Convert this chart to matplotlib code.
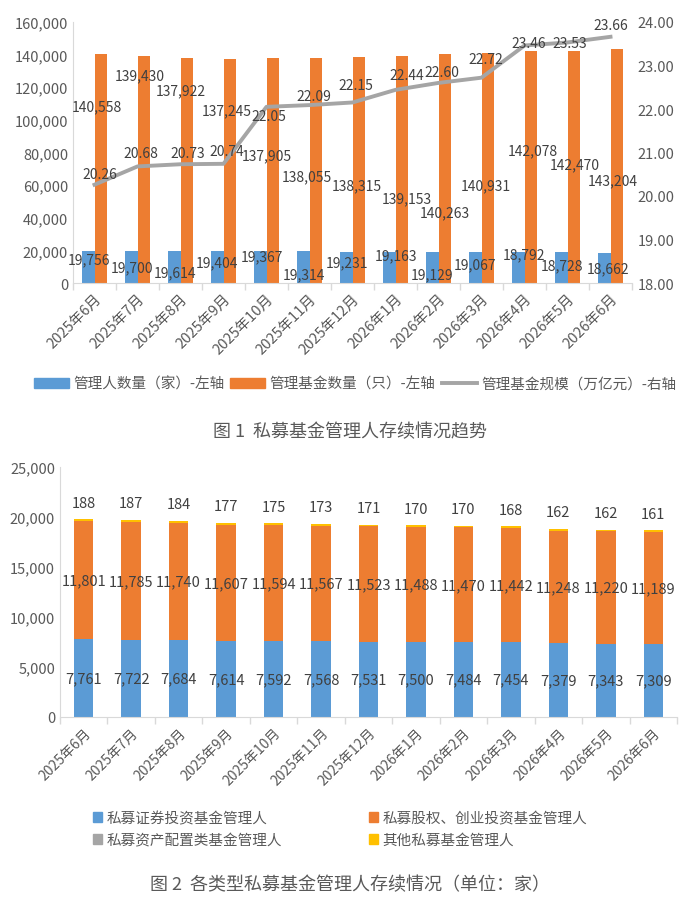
import matplotlib
matplotlib.use("Agg")
import matplotlib.pyplot as plt
from matplotlib.patches import Patch
from matplotlib.lines import Line2D
from matplotlib.ticker import FuncFormatter, FixedLocator
import numpy as np

plt.rcParams['font.family'] = ['Noto Sans CJK SC', 'DejaVu Sans']

# data
months = ['2025年6月', '2025年7月', '2025年8月', '2025年9月', '2025年10月', '2025年11月',
          '2025年12月', '2026年1月', '2026年2月', '2026年3月', '2026年4月', '2026年5月', '2026年6月']
managers = [19756, 19700, 19614, 19404, 19367, 19314, 19231, 19163, 19129, 19067, 18792, 18728, 18662]
funds = [140558, 139430, 137922, 137245, 137905, 138055, 138315, 139153, 140263, 140931, 142078, 142470, 143204]
scale = [20.26, 20.68, 20.73, 20.74, 22.05, 22.09, 22.15, 22.44, 22.60, 22.72, 23.46, 23.53, 23.66]

securities = [7761, 7722, 7684, 7614, 7592, 7568, 7531, 7500, 7484, 7454, 7379, 7343, 7309]
equity_vc = [11801, 11785, 11740, 11607, 11594, 11567, 11523, 11488, 11470, 11442, 11248, 11220, 11189]
asset_alloc = [6, 6, 6, 6, 6, 6, 6, 5, 5, 3, 3, 3, 3]
others = [188, 187, 184, 177, 175, 173, 171, 170, 170, 168, 162, 162, 161]

# label placement as in the source picture (x shift in categories, y in axis units)
mgr_dx = [-0.13, -0.12, -0.13, -0.15, -0.11, -0.13, -0.12, 0.0, -0.15, -0.15, 0.0, -0.13, -0.05]
mgr_y = [14700, 9600, 6500, 12700, 16400, 5500, 12700, 16800, 5500, 11200, 17800, 10600, 9000]
fund_dx = [0.05, 0.06, 0.0, 0.08, 0.0, -0.05, 0.1, 0.27, 0.15, 0.1, 0.19, 0.18, 0.05]
fund_y = [108300, 127500, 117900, 105600, 78000, 65400, 60000, 51900, 43300, 60000, 81100, 72500, 62700]
scale_dx = [0.12, 0.08, 0.17, 0.08, 0.05, 0.1, 0.07, 0.27, 0.07, 0.1, 0.11, 0.05, 0.0]
scale_y = [20.51, 20.98, 21.0, 21.04, 21.83, 22.31, 22.55, 22.78, 22.86, 23.15, 23.52, 23.52, 23.93]

blue = '#5B9BD5'
orange = '#ED7D31'
gray = '#A5A5A5'
yellow = '#FFC000'
txt = '#404040'
tick_c = '#595959'
axis_c = '#D9D9D9'

x = np.arange(len(months))
comma = FuncFormatter(lambda v, p: f'{v:,.0f}')

fig = plt.figure(figsize=(7, 9.03), dpi=100)


def style_xaxis(ax, n, fs):
    ax.set_xlim(-0.5, n - 0.5)
    ax.set_xticks(x)
    ax.set_xticklabels(months, rotation=45, ha='right', va='top',
                       rotation_mode='anchor', fontsize=fs, color=tick_c)
    ax.tick_params(axis='x', which='major', length=0, pad=6)
    ax.xaxis.set_minor_locator(FixedLocator(np.arange(-0.5, n, 1.0)))
    ax.tick_params(axis='x', which='minor', length=5, color=axis_c, width=1)
    ax.tick_params(axis='y', length=0, labelsize=10.5, labelcolor=tick_c)
    for s in ['top', 'right']:
        ax.spines[s].set_visible(False)
    ax.spines['left'].set_color(axis_c)
    ax.spines['bottom'].set_color(axis_c)


# ---- chart 1 ----
ax1 = fig.add_axes([73 / 700, 1 - 284 / 903, 559 / 700, 261 / 903])
w = 0.285
ax1.bar(x - w / 2, managers, w, color=blue)
ax1.bar(x + w / 2, funds, w, color=orange)
ax1.set_ylim(0, 160000)
ax1.set_yticks(np.arange(0, 160001, 20000))
ax1.yaxis.set_major_formatter(comma)
style_xaxis(ax1, len(months), 10.5)

ax1r = ax1.twinx()
ax1r.plot(x, scale, color=gray, lw=2.8, solid_joinstyle='round')
ax1r.set_ylim(18, 24)
ax1r.set_yticks(np.arange(18, 24.01, 1))
ax1r.yaxis.set_major_formatter(FuncFormatter(lambda v, p: f'{v:.2f}'))
ax1r.tick_params(axis='y', length=0, labelsize=10.5, labelcolor=tick_c, pad=4)
for s in ['top', 'right', 'left', 'bottom']:
    ax1r.spines[s].set_visible(False)

for i in x:
    ax1.text(i + mgr_dx[i], mgr_y[i], f'{managers[i]:,}', ha='center', va='center',
             fontsize=10, color=txt)
    ax1.text(i + fund_dx[i], fund_y[i], f'{funds[i]:,}', ha='center', va='center',
             fontsize=10, color=txt)
    ax1r.text(i + scale_dx[i], scale_y[i], f'{scale[i]:.2f}', ha='center', va='center',
              fontsize=10, color=txt)

h1 = [Patch(color=blue), Patch(color=orange), Line2D([0], [0], color=gray, lw=2.8)]
fig.legend(h1, ['管理人数量（家）-左轴', '管理基金数量（只）-左轴', '管理基金规模（万亿元）-右轴'],
           loc='center', bbox_to_anchor=(355 / 700, 1 - 385 / 903), ncol=3, frameon=False,
           handlelength=2.4, handleheight=0.6, handletextpad=0.3, columnspacing=0.4,
           prop={'size': 10.5}, labelcolor=tick_c)

fig.text(0.5, 1 - 432 / 903, '图 1  私募基金管理人存续情况趋势', ha='center', va='center',
         fontsize=13, color='#595959')

# ---- chart 2 ----
ax2 = fig.add_axes([60 / 700, 1 - 718 / 903, 617 / 700, 250 / 903])
bw = 0.41
b1 = np.array(securities)
b2 = b1 + np.array(equity_vc)
b3 = b2 + np.array(asset_alloc)
ax2.bar(x, securities, bw, color=blue)
ax2.bar(x, equity_vc, bw, bottom=b1, color=orange)
ax2.bar(x, asset_alloc, bw, bottom=b2, color=gray)
ax2.bar(x, others, bw, bottom=b3, color=yellow)
ax2.set_ylim(0, 25000)
ax2.set_yticks(np.arange(0, 25001, 5000))
ax2.yaxis.set_major_formatter(comma)
style_xaxis(ax2, len(months), 10)

for i in x:
    ax2.text(i, securities[i] / 2, f'{securities[i]:,}', ha='center', va='center',
             fontsize=10.5, color=txt)
    ax2.text(i, b1[i] + equity_vc[i] / 2, f'{equity_vc[i]:,}', ha='center', va='center',
             fontsize=10.5, color=txt)
    ax2.annotate(f'{others[i]:,}', (i, b3[i] + others[i]), xytext=(0, 12),
                 textcoords='offset points', ha='center', va='center',
                 fontsize=10.5, color=txt)

h2 = [Patch(color=blue), Patch(color=orange), Patch(color=gray), Patch(color=yellow)]
l2 = ['私募证券投资基金管理人', '私募股权、创业投资基金管理人', '私募资产配置类基金管理人', '其他私募基金管理人']
order = [0, 2, 1, 3]
fig.legend([h2[k] for k in order], [l2[k] for k in order],
           loc='center', bbox_to_anchor=(340 / 700, 1 - 830 / 903), ncol=2, frameon=False,
           handlelength=0.6, handleheight=0.6, handletextpad=0.3, columnspacing=6.0,
           labelspacing=0.55, prop={'size': 10.5}, labelcolor=tick_c)

fig.text(0.5, 1 - 885 / 903, '图 2  各类型私募基金管理人存续情况（单位：家）', ha='center', va='center',
         fontsize=13, color='#595959')

fig.savefig('out.png', dpi=100, facecolor='white')
